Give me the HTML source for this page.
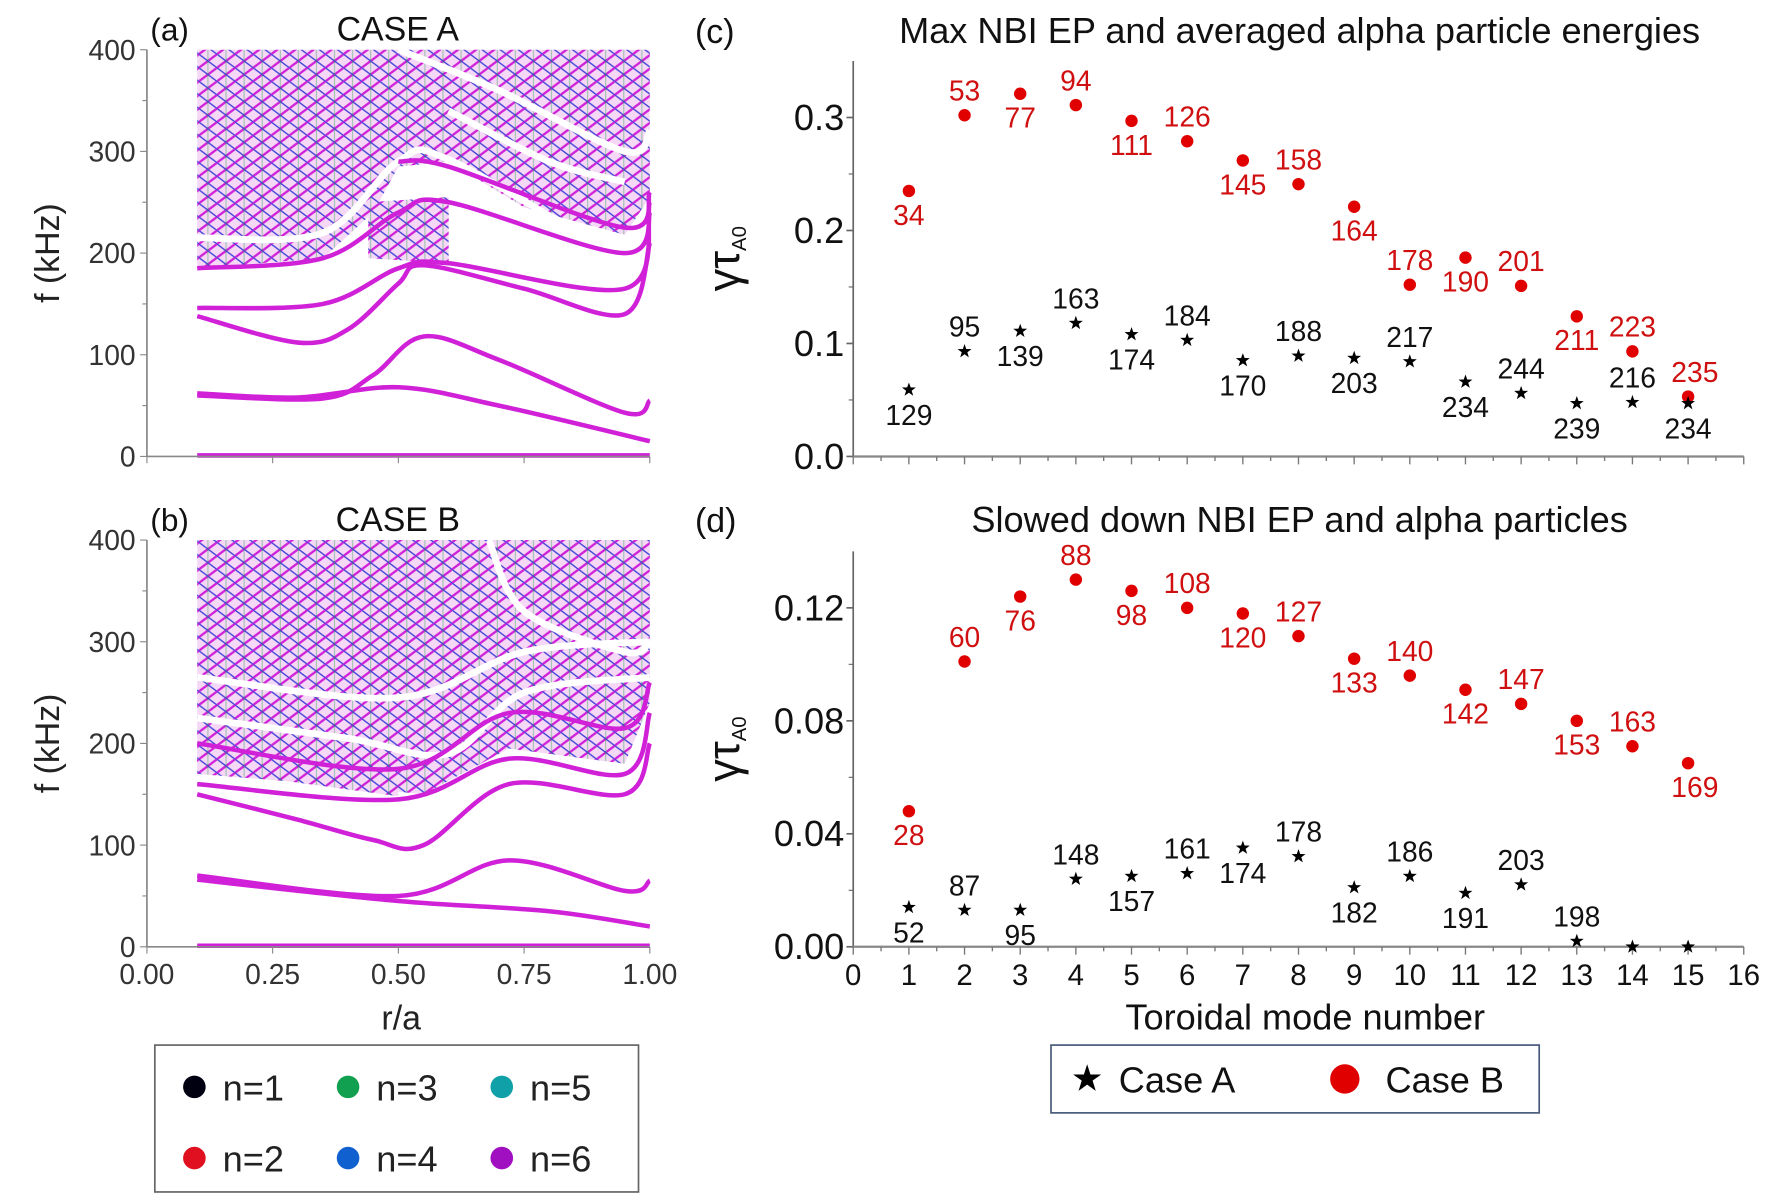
<!DOCTYPE html>
<html><head><meta charset="utf-8"><style>
html,body{margin:0;padding:0;background:#fff;width:1772px;height:1201px;overflow:hidden}
svg{display:block}
text{font-family:"Liberation Sans Narrow","Liberation Sans",sans-serif}
</style></head><body>
<svg id="fig" width="1772" height="1201" viewBox="0 0 1568 1063" preserveAspectRatio="none" xmlns="http://www.w3.org/2000/svg">
<defs>
<pattern id="hatch" width="16" height="12" patternUnits="userSpaceOnUse">
<rect width="16" height="12" fill="#f4d8f6"/>
<path d="M0,12 L16,0" stroke="#d020d8" stroke-width="2"/>
<path d="M0,0 L16,12" stroke="#4040d8" stroke-width="1.2"/>
<path d="M8,0 L8,12" stroke="#20a040" stroke-width="0.8" opacity="0.5"/>
</pattern>
</defs>
<g id="spec"></g>
<g id="charts"></g>
</svg>
<script>
// ---------- Chart data ----------
const modes = [1,2,3,4,5,6,7,8,9,10,11,12,13,14,15];
const cA = [0.059,0.093,0.111,0.118,0.108,0.103,0.085,0.089,0.087,0.084,0.066,0.056,0.047,0.048,0.047];
const cALabels = ["129","95","139","163","174","184","170","188","203","217","234","244","239","216","234"];
const cALabelPos = [1,-1,1,-1,1,-1,1,-1,1,-1,1,-1,1,-1,1];
const cB = [0.235,0.302,0.321,0.311,0.297,0.279,0.262,0.241,0.221,0.152,0.176,0.151,0.124,0.093,0.053];
const cBLabels = ["34","53","77","94","111","126","145","158","164","178","190","201","211","223","235"];
const cBLabelPos = [1,-1,1,-1,1,-1,1,-1,1,-1,1,-1,1,-1,-1];
const dA = [0.014,0.013,0.013,0.024,0.025,0.026,0.035,0.032,0.021,0.025,0.019,0.022,0.002,0.000,0.000];
const dALabels = ["52","87","95","148","157","161","174","178","182","186","191","203","198","",""];
const dALabelPos = [1,-1,1,-1,1,-1,1,-1,1,-1,1,-1,-1,0,0];
const dB = [0.048,0.101,0.124,0.130,0.126,0.120,0.118,0.110,0.102,0.096,0.091,0.086,0.080,0.071,0.065];
const dBLabels = ["28","60","76","88","98","108","120","127","133","140","142","147","153","163","169"];
const dBLabelPos = [1,-1,1,-1,1,-1,1,-1,1,-1,1,-1,1,-1,1];
const cTicks = [0.0,0.1,0.2,0.3];
const cTickLabels = ["0.0","0.1","0.2","0.3"];
const dTicks = [0,0.04,0.08,0.12];
const dTickLabels = ["0.00","0.04","0.08","0.12"];
const xTicks = [0,1,2,3,4,5,6,7,8,9,10,11,12,13,14,15,16];
const fTicks = [0,100,200,300,400];
const rTicks = [0,0.25,0.5,0.75,1.0];
const rTickLabels = ["0.00","0.25","0.50","0.75","1.00"];

const NS="http://www.w3.org/2000/svg";
function mk(tag, attrs, parent, txt){const e=document.createElementNS(NS,tag);for(const k in attrs)e.setAttribute(k,attrs[k]);if(txt!==undefined)e.textContent=txt;parent.appendChild(e);return e;}
const charts=document.getElementById('charts');
const spec=document.getElementById('spec');

const X0=755, XU=49.25;
function xn(n){return X0+n*XU;}
function panel(name, y0, yTop, vmax, ticks, tickLabels, A, AL, ALp, B, BL, BLp, title, tag, ymaxV, showX){
  const g=mk('g',{},charts);
  
  
  const ys=v=>y0-(v/vmax)*(y0-yTop);
  const yAxTop=ys(ymaxV);
  let ax=mk('line',{x1:X0,y1:yAxTop,x2:X0,y2:y0,stroke:'#666','stroke-width':1.5},g);
   
  ax=mk('line',{x1:X0,y1:y0,x2:xn(16),y2:y0,stroke:'#888','stroke-width':2},g);
   
  ticks.forEach((t,i)=>{
    mk('line',{x1:X0-6,y1:ys(t),x2:X0,y2:ys(t),stroke:'#666','stroke-width':1.5},g);
    const tl=mk('text',{x:X0-8,y:ys(t)+11,'font-size':32,'text-anchor':'end',fill:'#111'},g,tickLabels[i]);
     
    if(i<ticks.length-1){const m=(t+ticks[i+1])/2;mk('line',{x1:X0-4,y1:ys(m),x2:X0,y2:ys(m),stroke:'#666','stroke-width':1},g);}
  });
  for(let k=0;k<=32;k++){const n=k/2;mk('line',{x1:xn(n),y1:y0,x2:xn(n),y2:y0+(k%2?4:7),stroke:'#777','stroke-width':1.2},g);}
  if(showX){xTicks.forEach(n=>{const tl=mk('text',{x:xn(n),y:y0+34,'font-size':26,'text-anchor':'middle',fill:'#111'},g,String(n));});}
  const yl=mk('text',{transform:`translate(654,${(y0+yAxTop)/2}) rotate(-90)`,'font-size':40,'text-anchor':'middle',fill:'#111','font-family':'"DejaVu Serif",serif'},g);
   
  mk('tspan',{},yl,'γτ'); mk('tspan',{'font-size':18,dy:6},yl,'A0');
  const tt=mk('text',{x:1150,y:name==='panel-c'?38:471,'font-size':32,'text-anchor':'middle',fill:'#111'},g,title);
   
  const tg=mk('text',{x:615,y:name==='panel-c'?38:471,'font-size':30,fill:'#111'},g,tag);
   
  B.forEach((v,i)=>{
    const c=mk('circle',{cx:xn(modes[i]),cy:ys(v),r:5.5,fill:'#e00000'},g);
     
    if(BL[i]){const t=mk('text',{x:xn(modes[i])+(i===14?6:0),y:ys(v)+(BLp[i]>0?30:-13),'font-size':25,'text-anchor':'middle',fill:'#d01010'},g,BL[i]);
       }
  });
  A.forEach((v,i)=>{
    const cx=xn(modes[i]),cy=ys(v);let p='';
    for(let k=0;k<10;k++){const a=-Math.PI/2+k*Math.PI/5;const r=k%2?2.6:6.5;p+=(k?'L':'M')+(cx+r*Math.cos(a)).toFixed(1)+','+(cy+r*Math.sin(a)).toFixed(1);}
    const s=mk('path',{d:p+'Z',fill:'#000'},g);
     
    if(AL[i]){const t=mk('text',{x:cx,y:cy+(ALp[i]>0?31:-13),'font-size':25,'text-anchor':'middle',fill:'#111'},g,AL[i]);
       }
  });
}
panel('panel-c',404,104,0.3,cTicks,cTickLabels,cA,cALabels,cALabelPos,cB,cBLabels,cBLabelPos,'Max NBI EP and averaged alpha particle energies','(c)',0.35,false);
panel('panel-d',838,538,0.12,dTicks,dTickLabels,dA,dALabels,dALabelPos,dB,dBLabels,dBLabelPos,'Slowed down NBI EP and alpha particles','(d)',0.14,true);
let xt=mk('text',{x:1155,y:911,'font-size':32,'text-anchor':'middle',fill:'#111'},charts,'Toroidal mode number');
 
let lg=mk('g',{},charts);
 
mk('rect',{x:930,y:925,width:432,height:60,fill:'#fff',stroke:'#4a5a7a','stroke-width':1.5},lg);
let p='';const cx=962,cy=955;for(let k=0;k<10;k++){const a=-Math.PI/2+k*Math.PI/5;const r=k%2?5:13;p+=(k?'L':'M')+(cx+r*Math.cos(a)).toFixed(1)+','+(cy+r*Math.sin(a)).toFixed(1);}
mk('path',{d:p+'Z',fill:'#000'},lg);
mk('text',{x:990,y:967,'font-size':32,fill:'#111'},lg,'Case A');
mk('circle',{cx:1190,cy:955,r:13,fill:'#e00000'},lg);
mk('text',{x:1226,y:967,'font-size':32,fill:'#111'},lg,'Case B');

// ---------- Spectrum panels ----------
const specA = {
  lines:[[[0.1,1],[1,1]],
    [[0.1,62],[0.3,58],[0.5,68],[0.7,50],[1,15]],
    [[0.1,60],[0.35,57],[0.45,80],[0.55,118],[0.7,95],[0.95,43],[1,55]],
    [[0.1,138],[0.3,112],[0.4,125],[0.5,170],[0.55,188],[0.75,165],[0.95,140],[1,210]],
    [[0.1,146],[0.35,150],[0.5,185],[0.6,190],[0.95,165],[1,240]],
    [[0.1,185],[0.35,195],[0.5,240],[0.6,250],[0.95,200],[1,250]],
    [[0.5,290],[0.6,285],[0.95,225],[1,260]]],
  fill:[[0.1,400],[1,400],[1,255],[0.95,218],[0.75,245],[0.6,290],[0.5,285],[0.45,240],[0.35,195],[0.1,185]],
  band:[[0.44,250],[0.6,255],[0.6,190],[0.44,195]],
  gaps:[[[0.1,215],[0.35,220],[0.5,290],[0.6,292],[0.95,195],[1,205]],[[0.5,400],[0.7,360],[0.95,300],[1,320]],[[0.6,340],[0.8,290],[0.95,270]]]
};
const specB = {
  lines:[[[0.1,1],[1,1]],
    [[0.1,70],[0.5,50],[0.72,85],[0.95,55],[1,65]],
    [[0.1,66],[0.5,45],[0.8,35],[1,20]],
    [[0.1,150],[0.3,125],[0.45,105],[0.55,100],[0.72,160],[0.95,150],[1,200]],
    [[0.1,160],[0.5,145],[0.72,185],[0.95,170],[1,230]],
    [[0.1,200],[0.5,175],[0.72,230],[0.95,215],[1,260]]],
  fill:[[0.1,400],[1,400],[1,240],[0.95,180],[0.72,195],[0.55,150],[0.35,160],[0.1,170]],
  band:[[0.1,175],[0.5,148],[0.5,160],[0.1,185]],
  gaps:[[[0.1,225],[0.4,205],[0.6,190],[0.75,250],[1,265]],[[0.68,400],[0.75,330],[0.95,290],[1,300]],[[0.1,265],[0.5,245],[0.75,290],[1,300]]]
};
function smooth(P){ // Catmull-Rom to cubic bezier
  let d='M'+P[0][0].toFixed(1)+','+P[0][1].toFixed(1);
  for(let i=0;i<P.length-1;i++){const p0=P[i-1]||P[i],p1=P[i],p2=P[i+1],p3=P[i+2]||p2;
    const c1=[p1[0]+(p2[0]-p0[0])/6,p1[1]+(p2[1]-p0[1])/6],c2=[p2[0]-(p3[0]-p1[0])/6,p2[1]-(p3[1]-p1[1])/6];
    d+=`C${c1[0].toFixed(1)},${c1[1].toFixed(1)} ${c2[0].toFixed(1)},${c2[1].toFixed(1)} ${p2[0].toFixed(1)},${p2[1].toFixed(1)}`;}
  return d;
}
function specPanel(name, y0, data, label, title, showX){
  const g=mk('g',{},spec);
   
  const X=r=>130+445*r, Y=f=>y0-f*0.9;
  const P=a=>a.map(q=>[X(q[0]),Y(q[1])]);
  const pts=a=>a.map(q=>X(q[0]).toFixed(1)+','+Y(q[1]).toFixed(1)).join(' ');
  let e=mk('polygon',{points:pts(data.fill),fill:'url(#hatch)'},g);
   
  mk('polygon',{points:pts(data.band),fill:'url(#hatch)'},g);
  data.gaps.forEach(l=>mk('path',{d:smooth(P(l)),fill:'none',stroke:'#fff','stroke-width':6},g));
  data.lines.forEach(l=>{const pl=mk('path',{d:smooth(P(l)),fill:'none',stroke:'#d020d8','stroke-width':4},g);
     });
  mk('line',{x1:130,y1:Y(400),x2:130,y2:y0,stroke:'#888','stroke-width':1.5},g);
  mk('line',{x1:130,y1:y0,x2:575,y2:y0,stroke:'#888','stroke-width':1.5},g);
  fTicks.forEach(f=>{mk('line',{x1:124,y1:Y(f),x2:130,y2:Y(f),stroke:'#888'},g);
    const t=mk('text',{x:120,y:Y(f)+9,'font-size':25,'text-anchor':'end',fill:'#333'},g,String(f));
     
    if(f<400)mk('line',{x1:126,y1:Y(f+50),x2:130,y2:Y(f+50),stroke:'#888'},g);});
  rTicks.forEach((r,i)=>{mk('line',{x1:X(r),y1:y0,x2:X(r),y2:y0+6,stroke:'#888'},g);
    if(showX){const t=mk('text',{x:X(r),y:y0+33,'font-size':25,'text-anchor':'middle',fill:'#333'},g,rTickLabels[i]);
       }});
  const yl=mk('text',{transform:`translate(52,${y0-180}) rotate(-90)`,'font-size':30,'text-anchor':'middle',fill:'#222','font-family':'"Liberation Sans",sans-serif'},g,'f (kHz)');
   
  const lb=mk('text',{x:133,y:y0-368,'font-size':28,fill:'#111'},g,label);
   
  const tt=mk('text',{x:352,y:y0-368,'font-size':30,'text-anchor':'middle',fill:'#111'},g,title);
   
}
specPanel('panel-a',404,specA,'(a)','CASE A',false);
specPanel('panel-b',838,specB,'(b)','CASE B',true);
let rt=mk('text',{x:355,y:911,'font-size':30,'text-anchor':'middle',fill:'#222','font-family':'"Liberation Sans",sans-serif'},spec,'r/a');
 
const nNames=["n=1","n=3","n=5","n=2","n=4","n=6"];
const nColors=["#000010","#10a050","#10a0a8","#e01020","#1060d0","#a010c0"];
let ng=mk('g',{},spec);
 
mk('rect',{x:137,y:925,width:428,height:130,fill:'#fff',stroke:'#666','stroke-width':1.5},ng);
nNames.forEach((s,i)=>{const cx=172+(i%3)*136,cy=i<3?962:1025;
  mk('circle',{cx:cx,cy:cy,r:10,fill:nColors[i]},ng);
  const t=mk('text',{x:cx+25,y:cy+12,'font-size':32,fill:'#222','font-family':'"Liberation Sans",sans-serif'},ng,s);
   });
</script>
</body></html>
